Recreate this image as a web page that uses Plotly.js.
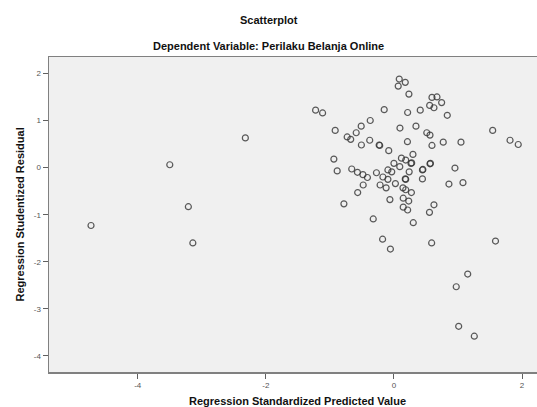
<!DOCTYPE html>
<html>
<head>
<meta charset="utf-8">
<script src="https://cdn.plot.ly/plotly-3.0.1.min.js"></script>
<style>html,body{margin:0;padding:0;background:#fff;}#chart{width:537px;height:407px;}</style>
</head>
<body>
<div id="chart"></div>
<script>
// Regression Standardized Predicted Value
var predicted = [
  -4.73, -3.50, -3.21, -3.14, -2.32,
  0.083, 0.177, 0.067, 0.234, 0.594, 0.672, 0.745, 0.558, 0.625, 0.833,
  -1.223, -1.114, -0.152, 0.214, 0.411, -0.370, -0.511, -0.589, -0.917, -0.730,
  -0.675, -0.378, -0.508, -0.231, -0.222, -0.081, 0.094, 0.344, 0.513, 0.563,
  0.211, 0.594, 0.770, 1.047, 1.542, 1.813, 1.941, 0.297, 0.117, 0.184,
  0.266, 0.277, 0.000, 0.091, 0.563, 0.570, -0.938, -0.886, -0.659, -0.570,
  -0.484, -0.414, -0.273, -0.094, -0.034, -0.172, -0.094, 0.238, 0.445, 0.452,
  0.953, 0.177, 0.184, 0.445, 0.023, -0.216, -0.122, -0.480, -0.566, 0.141,
  0.184, 0.273, 0.859, 1.078, -0.781, -0.063, 0.145, 0.231, 0.625, 0.555,
  0.145, 0.214, -0.323, 0.302, -0.177, -0.055, 0.589, 1.586, 1.152, 0.973,
  1.011, 1.255
];
// Regression Studentized Residual
var residual = [
  -1.23, 0.06, -0.83, -1.60, 0.63,
  1.88, 1.81, 1.73, 1.56, 1.49, 1.50, 1.38, 1.32, 1.27, 1.11,
  1.22, 1.16, 1.23, 1.17, 1.22, 1.00, 0.88, 0.74, 0.79, 0.65,
  0.60, 0.58, 0.48, 0.48, 0.47, 0.36, 0.84, 0.88, 0.74, 0.69,
  0.55, 0.47, 0.54, 0.54, 0.79, 0.58, 0.49, 0.28, 0.20, 0.16,
  0.09, 0.10, 0.09, 0.02, 0.08, 0.09, 0.18, -0.07, -0.03, -0.10,
  -0.15, -0.21, -0.11, -0.05, -0.09, -0.20, -0.25, -0.09, -0.05, -0.04,
  -0.01, -0.24, -0.25, -0.24, -0.34, -0.37, -0.43, -0.37, -0.53, -0.43,
  -0.47, -0.53, -0.35, -0.32, -0.77, -0.68, -0.65, -0.71, -0.79, -0.95,
  -0.84, -0.90, -1.09, -1.17, -1.52, -1.73, -1.60, -1.56, -2.26, -2.53,
  -3.37, -3.58
];
var xTicks = [-4, -2, 0, 2];
var yTicks = [-4, -3, -2, -1, 0, 1, 2];

var trace = {
  x: predicted, y: residual, type: 'scatter', mode: 'markers',
  marker: {symbol: 'circle-open', size: 6, color: 'rgba(50,50,50,0.8)', line: {width: 1.2, color: 'rgba(50,50,50,0.8)'}},
  hoverinfo: 'none', showlegend: false
};

var tickFont = {family: 'Liberation Sans, Arial, sans-serif', size: 8, color: '#555'};
var titleFont = {family: 'Liberation Sans, Arial, sans-serif', size: 11, color: '#111'};

var layout = {
  width: 537, height: 407,
  margin: {l: 49, r: 0, t: 57, b: 35, pad: 0},
  paper_bgcolor: '#ffffff', plot_bgcolor: '#f0f0f0',
  showlegend: false,
  xaxis: {
    range: [-5.386, 2.234], tickvals: xTicks, ticktext: xTicks.map(String),
    showgrid: false, zeroline: false, showline: true, mirror: true,
    linecolor: '#808080', linewidth: 1.5,
    ticks: 'outside', ticklen: 5, tickcolor: '#606060', tickwidth: 1,
    tickfont: tickFont
  },
  yaxis: {
    range: [-4.34, 2.348], tickvals: yTicks, ticktext: yTicks.map(String),
    showgrid: false, zeroline: false, showline: true, mirror: true,
    linecolor: '#808080', linewidth: 1.5,
    ticks: 'outside', ticklen: 5, tickcolor: '#606060', tickwidth: 1,
    tickfont: tickFont
  },
  annotations: [
    {text: '<b>Scatterplot</b>', xref: 'paper', yref: 'paper', x: 0.4498, y: 1, yshift: 37,
     xanchor: 'center', yanchor: 'middle', showarrow: false, font: titleFont},
    {text: '<b>Dependent Variable: Perilaku Belanja Online</b>', xref: 'paper', yref: 'paper', x: 0.4498, y: 1, yshift: 11,
     xanchor: 'center', yanchor: 'middle', showarrow: false, font: titleFont},
    {text: '<b>Regression Standardized Predicted Value</b>', xref: 'paper', yref: 'paper', x: 0.5096, y: 0, yshift: -29,
     xanchor: 'center', yanchor: 'middle', showarrow: false, font: titleFont},
    {text: '<b>Regression Studentized Residual</b>', xref: 'paper', yref: 'paper', x: 0, xshift: -30, y: 0.5,
     xanchor: 'center', yanchor: 'middle', textangle: -90, showarrow: false, font: titleFont}
  ]
};

Plotly.newPlot('chart', [trace], layout, {displayModeBar: false, staticPlot: true});
</script>
</body>
</html>
